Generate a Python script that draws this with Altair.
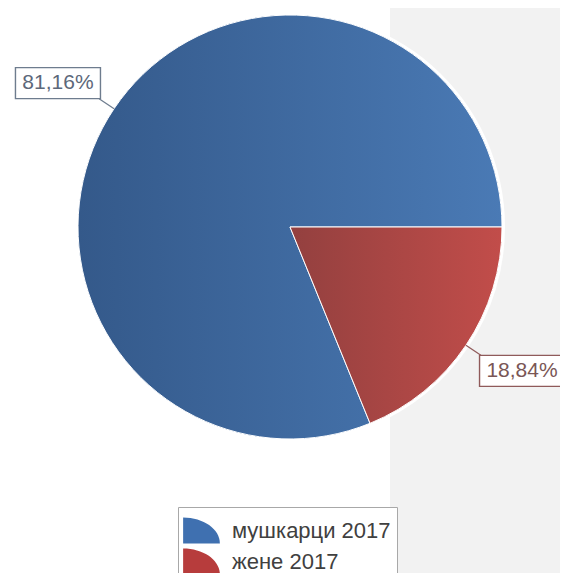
import math
import altair as alt
import pandas as pd

# ---- data ----
categories = ['мушкарци 2017', 'жене 2017']
values = [81.16, 18.84]
labels = ['81,16%', '18,84%']
order = [1, 0]  # red slice drawn first (starts at 3 o'clock)

df = pd.DataFrame({'cat': categories, 'val': values, 'label': labels, 'ord': order})

# ---- layout / style ----
W, H = 552, 565
CX, CY = 282, 219
R = 212
START = math.pi / 2
RL = 273          # label radius
RC = 230          # connector end radius
SHIFT = -0.037    # label angle nudge
BW, BH = 85, 31

theta = alt.Theta('val:Q', stack=True,
                  scale=alt.Scale(range=[START, START + 2 * math.pi], nice=False, zero=True))
ordr = alt.Order('ord:Q')

grad_blue = {"gradient": "linear", "x1": 0, "y1": 0, "x2": 1, "y2": 0,
             "stops": [{"offset": 0, "color": "#34598a"}, {"offset": 1, "color": "#4a7ab5"}]}
grad_red = {"gradient": "linear", "x1": 0, "y1": 0, "x2": 1, "y2": 0,
            "stops": [{"offset": 0, "color": "#93403f"}, {"offset": 1, "color": "#c24d4a"}]}

is_blue = alt.datum.cat == categories[0]

panel = alt.Chart(pd.DataFrame({'a': [0]})).mark_rect(fill='#f2f2f2').encode(
    x=alt.value(382), x2=alt.value(W), y=alt.value(0), y2=alt.value(H))

base = alt.Chart(df)

halo = base.mark_arc(outerRadius=R + 3, color='white').encode(
    theta=theta, order=ordr, detail='cat:N', x=alt.value(CX), y=alt.value(CY))

legend_arc = base.mark_arc(outerRadius=R).encode(
    theta=theta, order=ordr,
    color=alt.Color('cat:N',
                    scale=alt.Scale(domain=categories, range=['#3f70b0', '#b73c3c']),
                    legend=alt.Legend(
                        title=None, orient='none', legendX=170, legendY=499,
                        symbolType='M -1.05 0.74 L -1.05 -0.74 A 2.1 1.48 0 0 1 1.05 0.74 Z',
                        symbolSize=1225, symbolStrokeWidth=0, symbolOpacity=1,
                        labelFont='Liberation Sans', labelFontSize=22, labelColor='#404040',
                        labelOffset=13, labelLimit=300,
                        strokeColor='#a8a8a8', fillColor='white', padding=6, rowPadding=0)),
    x=alt.value(CX), y=alt.value(CY))

grad_arc = base.mark_arc(outerRadius=R, stroke='white', strokeWidth=1).encode(
    theta=theta, order=ordr, detail='cat:N',
    fill=alt.condition(is_blue, alt.value(grad_blue), alt.value(grad_red)),
    x=alt.value(CX), y=alt.value(CY))

lab = base.transform_joinaggregate(total='sum(val)').transform_window(
    cum='sum(val)', sort=[alt.SortField('ord')]
).transform_calculate(
    mid=f'{START} + 2*PI*(datum.cum - datum.val/2)/datum.total'
).transform_calculate(
    lx=f'{CX} + {RL}*sin(datum.mid + {SHIFT})',
    ly=f'{CY} - {RL}*cos(datum.mid + {SHIFT})',
    c0x=f'{CX} + {R}*sin(datum.mid)',
    c0y=f'{CY} - {R}*cos(datum.mid)',
    c1x=f'{CX} + {RC}*sin(datum.mid)',
    c1y=f'{CY} - {RC}*cos(datum.mid)',
).transform_calculate(
    bx1=f'datum.lx - {BW/2}', bx2=f'datum.lx + {BW/2}',
    by1=f'datum.ly - {BH/2}', by2=f'datum.ly + {BH/2}',
)

connectors = lab.mark_rule(strokeWidth=1.2).encode(
    x=alt.X('c0x:Q', scale=None, axis=None), y=alt.Y('c0y:Q', scale=None, axis=None),
    x2='c1x:Q', y2='c1y:Q',
    stroke=alt.condition(is_blue, alt.value('#6e7c8e'), alt.value('#8f5a5a')))

boxes = lab.mark_rect(fill='white', strokeWidth=1.4).encode(
    x=alt.X('bx1:Q', scale=None, axis=None), x2='bx2:Q',
    y=alt.Y('by1:Q', scale=None, axis=None), y2='by2:Q',
    stroke=alt.condition(is_blue, alt.value('#6e7c8e'), alt.value('#8f5a5a')))

texts = lab.mark_text(font='Liberation Sans', fontSize=21, align='center', baseline='middle').encode(
    x=alt.X('lx:Q', scale=None, axis=None), y=alt.Y('ly:Q', scale=None, axis=None),
    text='label:N',
    fill=alt.condition(is_blue, alt.value('#5d687a'), alt.value('#7a5656')))

chart = alt.layer(panel, halo, legend_arc, grad_arc, connectors, boxes, texts).properties(
    width=W, height=H, autosize='none', padding=0, background='white'
).configure_view(stroke=None)

chart.save("out.html", embed_options={"renderer": "svg", "actions": False})
